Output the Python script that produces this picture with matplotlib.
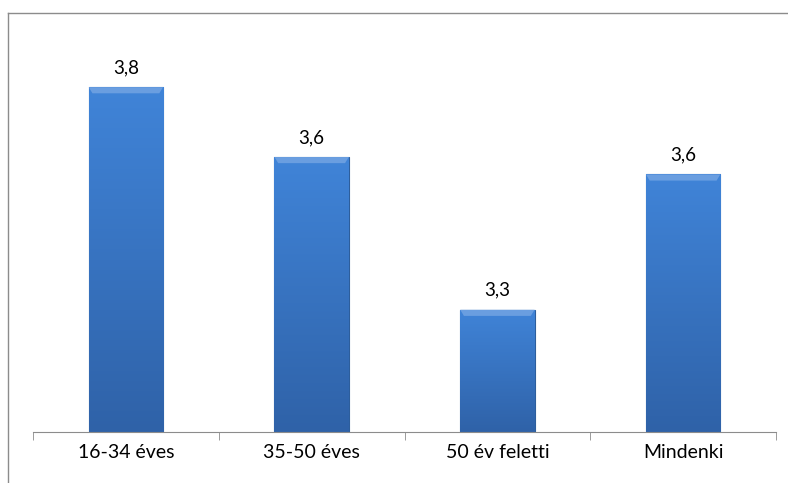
import matplotlib.pyplot as plt
import numpy as np
from matplotlib.lines import Line2D

categories = ['16-34 éves', '35-50 éves', '50 év feletti', 'Mindenki']
values = [3.79, 3.63, 3.28, 3.59]
labels = ['3,8', '3,6', '3,3', '3,6']

plt.rcParams['font.family'] = ['Lato', 'DejaVu Sans']

W, H = 788, 483
fig = plt.figure(figsize=(W / 100, H / 100), dpi=100)
# axes placed in pixel terms: left 33, right 776, bottom 432, top 13
ax = fig.add_axes([33 / W, (H - 432) / H, (776 - 33) / W, (432 - 13) / H])

x = np.arange(len(categories))
bars = ax.bar(x, values, width=0.4, color='#3C7AC9', edgecolor='#2D5E9C', linewidth=0.8, zorder=2)

# vertical gradient on each bar
grad = np.linspace(0, 1, 256).reshape(-1, 1)
cmap = plt.matplotlib.colors.LinearSegmentedColormap.from_list('b', ['#2F62A8', '#4084D8'])
for b in bars:
    x0, y0 = b.get_x(), b.get_y()
    w, h = b.get_width(), b.get_height()
    im = ax.imshow(grad, extent=[x0, x0 + w, 3.0, y0 + h], origin='lower', cmap=cmap,
                   aspect='auto', zorder=2.5)
    im.set_clip_path(b)
    # soft bevel along the top
    ax.fill([x0, x0 + w, x0 + w - 0.02, x0 + 0.02], [y0 + h, y0 + h, y0 + h - 0.014, y0 + h - 0.014],
            color='#6A9EE0', zorder=3, lw=0)

for xi, v, lab in zip(x, values, labels):
    ax.annotate(lab, (xi, v), xytext=(0, 8), textcoords='offset points',
                ha='center', va='bottom', fontsize=13.5, color='#000000')

ax.set_xlim(-0.5, 3.5)
ax.set_ylim(3.0, 3.96)
ax.set_xticks(x)
ax.set_xticklabels(categories, fontsize=14)
ax.set_xticks(np.arange(-0.5, 4, 1), minor=True)
ax.tick_params(axis='x', which='major', length=0, pad=9)
ax.tick_params(axis='x', which='minor', length=6, color='#8c8c8c', direction='out')
ax.set_yticks([])
for s in ['top', 'right', 'left']:
    ax.spines[s].set_visible(False)
ax.spines['bottom'].set_color('#8c8c8c')
ax.patch.set_alpha(0)

# outer chart frame (partly cropped in the reference)
fig.add_artist(Line2D([8 / W, 1.0], [(H - 13) / H, (H - 13) / H], color='#8c8c8c', lw=1))
fig.add_artist(Line2D([8 / W, 8 / W], [0, (H - 13) / H], color='#8c8c8c', lw=1))

fig.savefig('out.png', dpi=100)
